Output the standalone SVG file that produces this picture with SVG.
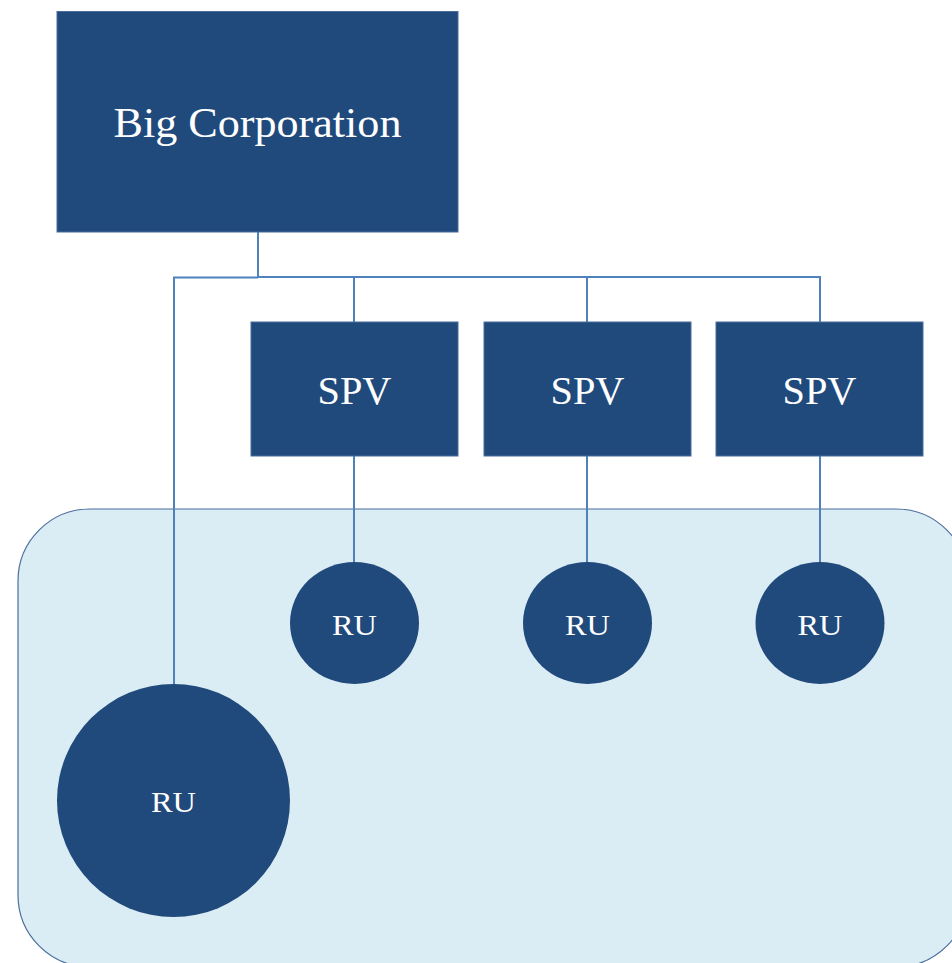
<svg xmlns="http://www.w3.org/2000/svg" width="952" height="963" viewBox="0 0 952 963">
<style>
.box{fill:#214a7c;stroke:#4a6f9e;stroke-width:1}
.node{fill:#214a7c}
.lbl{fill:#ffffff;font-family:"Liberation Serif","DejaVu Serif",serif;text-anchor:middle}
.con{fill:none;stroke:#4f81bd;stroke-width:2}
</style>
<rect x="18" y="509" width="950" height="458" rx="72" ry="72" fill="#dbedf4" stroke="#4a6f9e" stroke-width="1.2"/>
<g id="connectors">
<path class="con" d="M258 232 V277"/>
<path class="con" d="M174 685 V277.5 H258"/>
<path class="con" d="M258 277 H820 V322"/>
<path class="con" d="M354 277 V322"/>
<path class="con" d="M587 277 V322"/>
<path class="con" d="M354 456 V562"/>
<path class="con" d="M587 456 V562"/>
<path class="con" d="M820 456 V562"/>
</g>
<g id="big-corporation">
<rect class="box" x="57" y="11.5" width="401" height="220.5"/>
<text class="lbl" x="257.5" y="137" font-size="42" textLength="288" lengthAdjust="spacingAndGlyphs">Big Corporation</text>
</g>
<g id="spv1">
<rect class="box" x="251" y="322" width="207" height="134"/>
<text class="lbl" x="354.5" y="404" font-size="40" textLength="74" lengthAdjust="spacingAndGlyphs">SPV</text>
</g>
<g id="spv2">
<rect class="box" x="484" y="322" width="207" height="134"/>
<text class="lbl" x="587.5" y="404" font-size="40" textLength="74" lengthAdjust="spacingAndGlyphs">SPV</text>
</g>
<g id="spv3">
<rect class="box" x="716" y="322" width="207" height="134"/>
<text class="lbl" x="819.5" y="404" font-size="40" textLength="74" lengthAdjust="spacingAndGlyphs">SPV</text>
</g>
<g id="ru1">
<ellipse class="node" cx="354.5" cy="623" rx="64.5" ry="61"/>
<text class="lbl" x="354.5" y="635" font-size="30" textLength="45" lengthAdjust="spacingAndGlyphs">RU</text>
</g>
<g id="ru2">
<ellipse class="node" cx="587.5" cy="623" rx="64.5" ry="61"/>
<text class="lbl" x="587.5" y="635" font-size="30" textLength="45" lengthAdjust="spacingAndGlyphs">RU</text>
</g>
<g id="ru3">
<ellipse class="node" cx="820" cy="623" rx="64.5" ry="61"/>
<text class="lbl" x="820" y="635" font-size="30" textLength="45" lengthAdjust="spacingAndGlyphs">RU</text>
</g>
<g id="ru-big">
<circle class="node" cx="173.5" cy="800.5" r="116.5"/>
<text class="lbl" x="173.5" y="812" font-size="30" textLength="45" lengthAdjust="spacingAndGlyphs">RU</text>
</g>
</svg>
